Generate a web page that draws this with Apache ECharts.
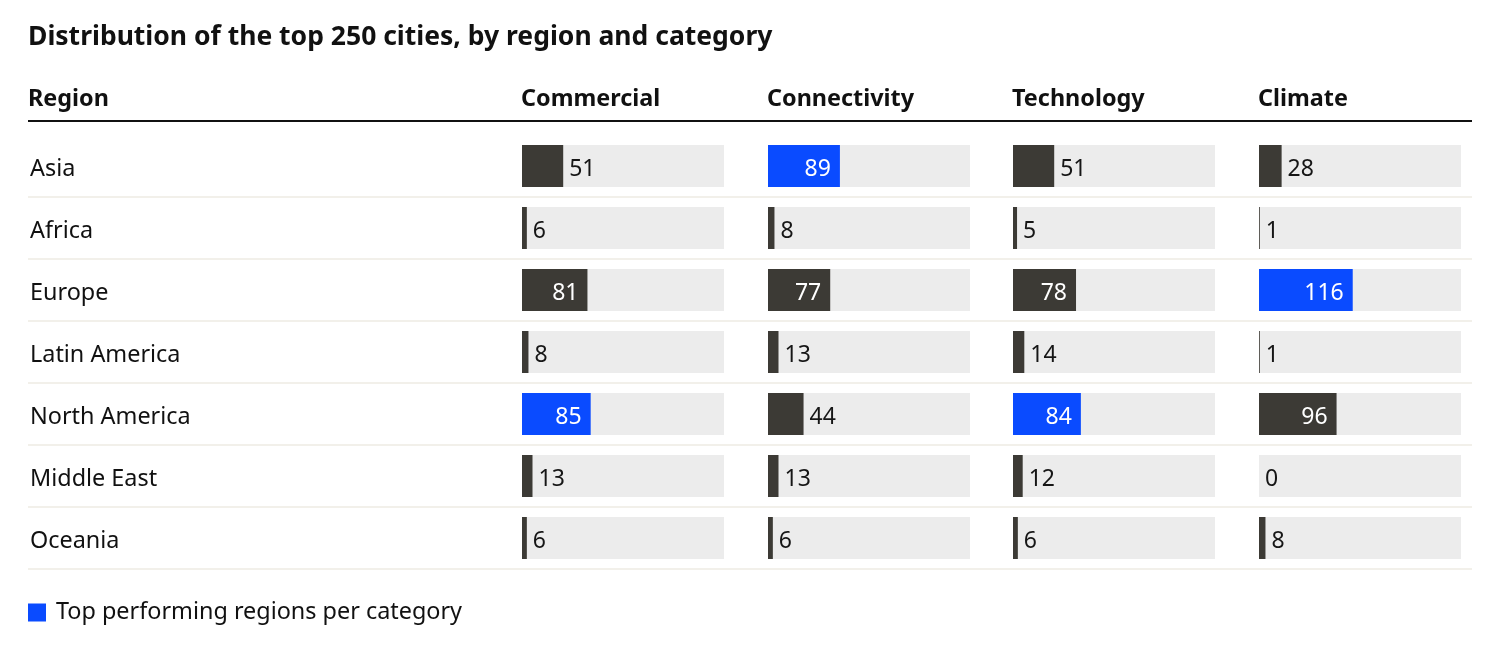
<!DOCTYPE html>
<html lang="en">
<head>
    <meta charset="UTF-8">
    <title>Top 250 cities by region</title>
    <script src="https://cdn.jsdelivr.net/npm/echarts@6/dist/echarts.min.js"></script>
    <style>
        html, body { margin: 0; padding: 0; background: #fff; }
        #main { width: 1500px; height: 646px; }
    </style>
</head>
<body>
<div id="main"></div>
<script>
    // data
    const regions = ['Asia', 'Africa', 'Europe', 'Latin America', 'North America', 'Middle East', 'Oceania']
    const categories = ['Commercial', 'Connectivity', 'Technology', 'Climate']
    const commercial = [51, 6, 81, 8, 85, 13, 6]
    const connectivity = [89, 8, 77, 13, 44, 13, 6]
    const technology = [51, 5, 78, 14, 84, 12, 6]
    const climate = [28, 1, 116, 1, 96, 0, 8]
    const maxCities = 250

    const columns = [commercial, connectivity, technology, climate]
    const colLeft = [522, 768, 1013, 1259]
    const colWidth = 202
    const gridTop = 135
    const rowH = 62
    const dark = '#3c3a35'
    const blue = '#0a4bff'
    const font = 'Noto Sans'

    let myChart = echarts.init(document.getElementById('main'))

    const grids = [{ left: 28, width: 1444, top: gridTop, height: rowH * regions.length }]
    const xAxes = [{ gridIndex: 0, type: 'value', show: false }]
    const yAxes = [{
        gridIndex: 0, type: 'category', data: regions, inverse: true,
        axisLine: { show: false }, axisTick: { show: false },
        axisLabel: {
            inside: true, margin: 2,
            formatter: v => '{r|' + v + '}',
            rich: { r: { color: '#111', fontSize: 23.4, fontFamily: font, padding: [6, 0, 0, 0] } }
        },
        // no rule right under the header line
        splitLine: { show: true, interval: idx => idx > 0, lineStyle: { color: '#f2f0ea', width: 2 } }
    }]
    const series = [{
        name: 'Top performing regions per category', type: 'bar', data: [],
        xAxisIndex: 0, yAxisIndex: 0, itemStyle: { color: blue }
    }]

    columns.forEach((vals, i) => {
        const gi = i + 1
        const best = Math.max(...vals)
        grids.push({ left: colLeft[i], width: colWidth, top: gridTop, height: rowH * regions.length })
        xAxes.push({ gridIndex: gi, type: 'value', min: 0, max: maxCities, show: false })
        yAxes.push({ gridIndex: gi, type: 'category', data: regions, inverse: true, show: false })
        series.push({
            name: categories[i], type: 'bar', xAxisIndex: gi, yAxisIndex: gi,
            barWidth: 42, silent: true,
            showBackground: true,
            backgroundStyle: { color: '#ececec' },
            label: { show: true, fontSize: 23, fontFamily: font, offset: [0, 3] },
            data: vals.map(v => {
                const inside = v >= 60
                return {
                    value: v,
                    itemStyle: { color: v === best ? blue : dark },
                    label: inside
                        ? { position: 'insideRight', distance: 9, color: '#fff' }
                        : { position: 'right', distance: 6, color: '#161616' }
                }
            })
        })
    })

    const titles = [{
        text: 'Distribution of the top 250 cities, by region and category',
        left: 28, top: 24, padding: 0,
        textStyle: { fontSize: 26.5, fontWeight: 'bold', color: '#111', fontFamily: font }
    }, {
        text: 'Region', left: 28, top: 88, padding: 0,
        textStyle: { fontSize: 23.4, fontWeight: 'bold', color: '#111', fontFamily: font }
    }]
    categories.forEach((c, i) => {
        titles.push({
            text: c, left: colLeft[i] - 1, top: 88, padding: 0,
            textStyle: { fontSize: 23.4, fontWeight: 'bold', color: '#111', fontFamily: font }
        })
    })

    const option = {
        animation: false,
        title: titles,
        grid: grids,
        xAxis: xAxes,
        yAxis: yAxes,
        series: series,
        legend: {
            data: ['Top performing regions per category'],
            left: 28, top: 601, padding: 0,
            icon: 'rect', itemWidth: 18, itemHeight: 18,
            selectedMode: false,
            textStyle: { fontSize: 23.4, color: '#111', fontFamily: font, padding: [2, 0, 0, 5] }
        },
        graphic: [{
            type: 'line',
            shape: { x1: 28, y1: 121, x2: 1472, y2: 121 },
            style: { stroke: '#111', lineWidth: 2 }
        }]
    }

    myChart.setOption(option)
</script>
</body>
</html>
